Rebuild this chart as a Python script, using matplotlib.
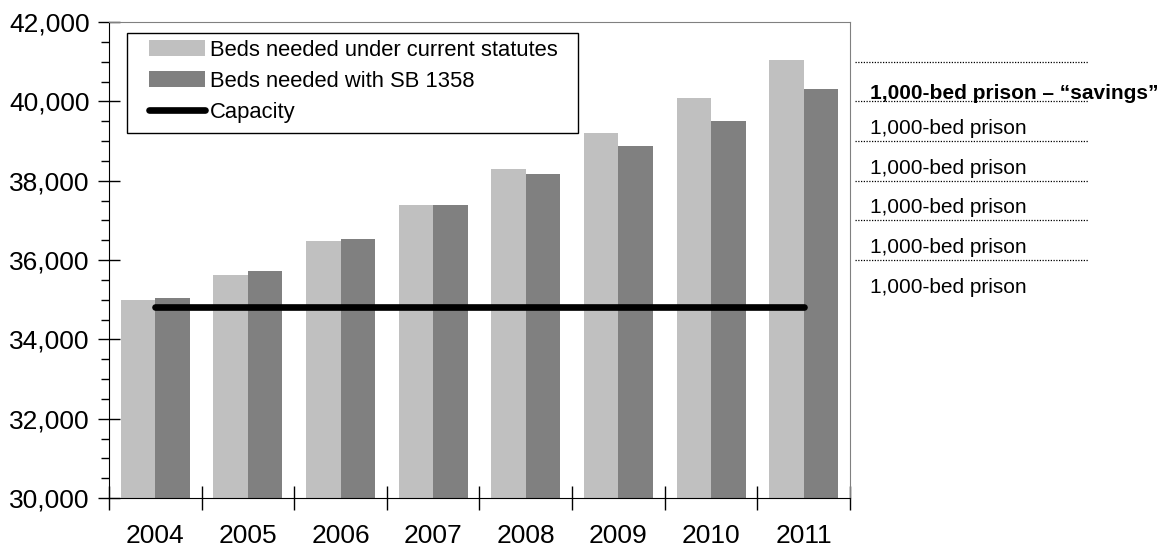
import matplotlib.pyplot as plt
from matplotlib.patches import Patch, Rectangle
from matplotlib.lines import Line2D
from matplotlib.ticker import MultipleLocator, FuncFormatter
import matplotlib.transforms as mtransforms
import numpy as np

plt.rcParams['font.family'] = ['Liberation Sans', 'DejaVu Sans']

years = ['2004', '2005', '2006', '2007', '2008', '2009', '2010', '2011']
beds_current = [35000, 35620, 36490, 37390, 38290, 39200, 40090, 41040]
beds_sb1358 = [35050, 35720, 36530, 37390, 38170, 38880, 39510, 40310]
capacity = [34820] * 8

# right-hand annotation bands (each band is 1,000 beds)
band_lines = [41000, 40000, 39000, 38000, 37000, 36000]
band_labels = ['1,000-bed prison \u2013 \u201csavings\u201d', '1,000-bed prison', '1,000-bed prison',
               '1,000-bed prison', '1,000-bed prison', '1,000-bed prison']
band_bases = [40000, 39000, 38000, 37000, 36000, 35000]

fig = plt.figure(figsize=(11.67, 5.5), dpi=100)
ax = fig.add_axes([109 / 1167, 52 / 550, 741 / 1167, 476 / 550])

x = np.arange(len(years))
w = 0.373
ax.bar(x - w / 2, beds_current, w, color='#C0C0C0', zorder=2)
ax.bar(x + w / 2, beds_sb1358, w, color='#808080', zorder=2)
ax.plot(x, capacity, color='black', lw=4.8, solid_capstyle='round', zorder=3)

ax.set_xlim(-0.5, len(years) - 0.5)
ax.set_ylim(30000, 42000)

ax.yaxis.set_major_locator(MultipleLocator(2000))
ax.yaxis.set_minor_locator(MultipleLocator(500))
ax.yaxis.set_major_formatter(FuncFormatter(lambda v, p: '{:,.0f}'.format(v)))
ax.tick_params(axis='y', which='major', direction='inout', length=16, width=1,
               labelsize=19, pad=6)
ax.tick_params(axis='y', which='minor', direction='out', length=6, width=1)

ax.set_xticks(np.arange(-0.5, len(years), 1.0))
ax.set_xticklabels([])
ax.set_xticks(x, minor=True)
ax.set_xticklabels(years, minor=True)
ax.tick_params(axis='x', which='major', direction='inout', length=17, width=1)
ax.tick_params(axis='x', which='minor', length=0, labelsize=19, pad=19)

for s in ['top', 'right']:
    ax.spines[s].set_color('#808080')
for s in ['left', 'bottom']:
    ax.spines[s].set_color('black')

# legend box drawn separately so the padding matches the original
ax.add_patch(Rectangle((0.0243, 0.7668), 0.633 - 0.0243, 0.9775 - 0.7668,
                       transform=ax.transAxes, facecolor='white', edgecolor='black',
                       lw=1.0, zorder=4))
handles = [Patch(facecolor='#C0C0C0', edgecolor='none'),
           Patch(facecolor='#808080', edgecolor='none'),
           Line2D([0], [0], color='black', lw=4.8, solid_capstyle='round')]
labels = ['Beds needed under current statutes', 'Beds needed with SB 1358', 'Capacity']
leg = ax.legend(handles, labels, loc='upper left', bbox_to_anchor=(0.054, 0.963),
                fontsize=15.8, frameon=False, borderaxespad=0, borderpad=0,
                handlelength=2.55, handletextpad=0.23, labelspacing=0.46)
leg.set_zorder(5)

trans = mtransforms.blended_transform_factory(ax.transAxes, ax.transData)
for yv in band_lines:
    ax.plot([1.007, 1.321], [yv, yv], transform=trans, clip_on=False,
            color='black', lw=0.9, linestyle=(0, (1, 1.2)))
for i, (lab, base) in enumerate(zip(band_labels, band_bases)):
    off = 50 if i == 0 else 180
    ax.text(1.027, base + off, lab, transform=trans, fontsize=15,
            fontweight='bold' if i == 0 else 'normal',
            ha='left', va='baseline', clip_on=False)

fig.savefig('out.png', dpi=100)
